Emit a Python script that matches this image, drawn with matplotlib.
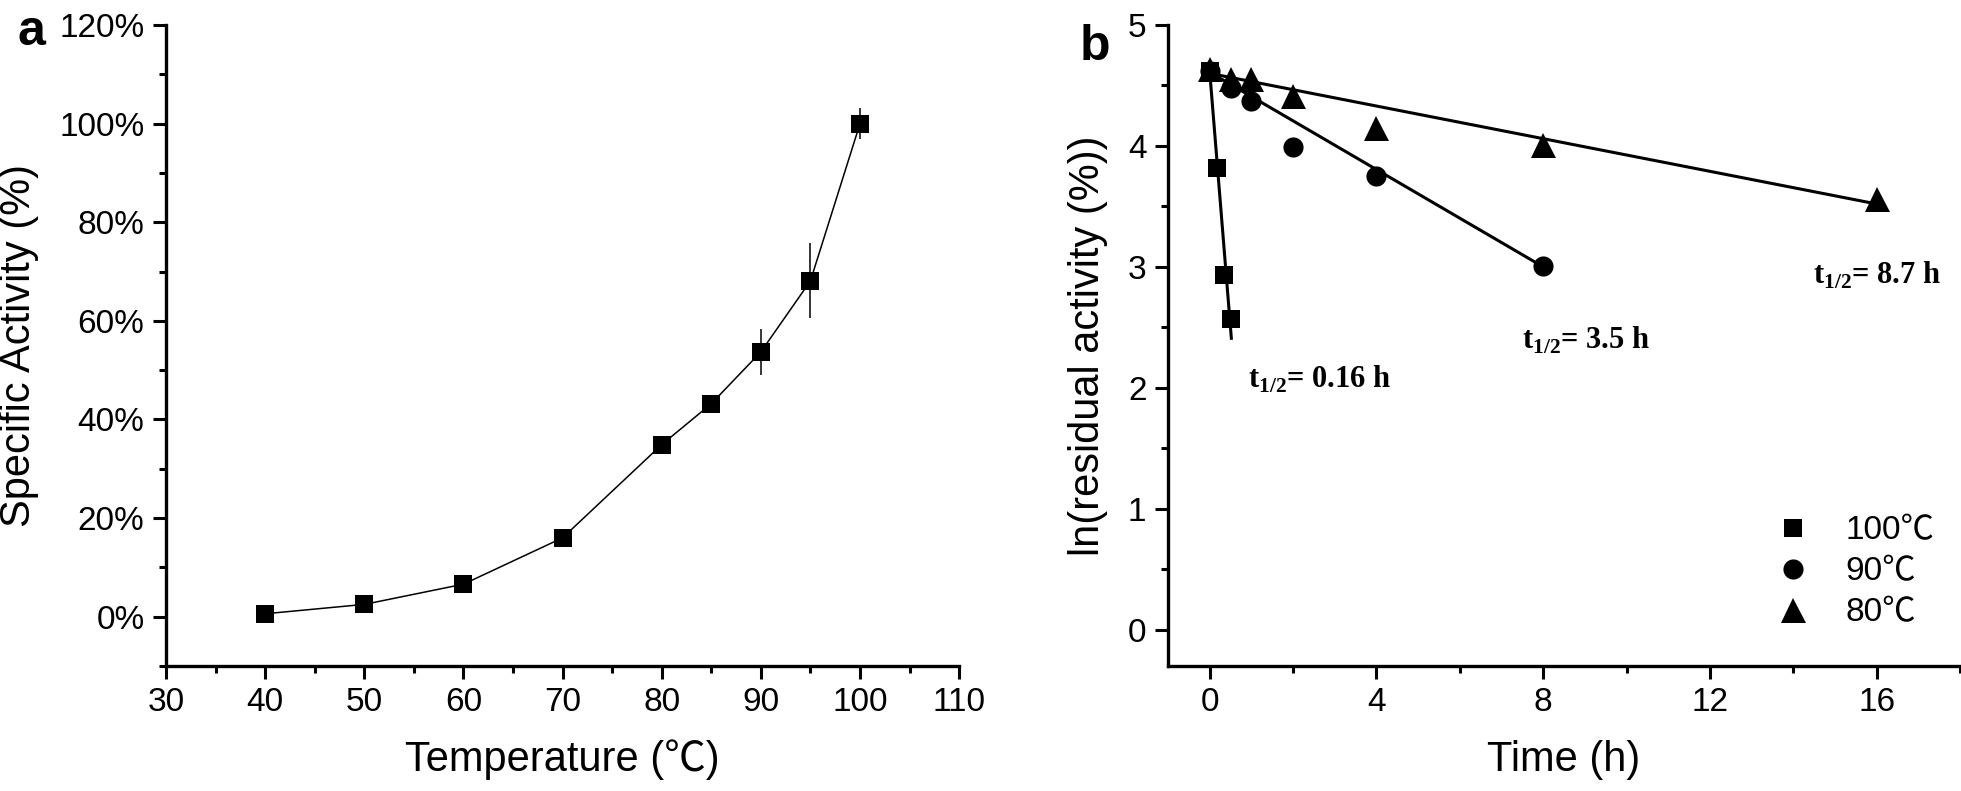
import numpy as np
import matplotlib.pyplot as plt
from matplotlib.ticker import MultipleLocator, PercentFormatter

plt.rcParams['font.family'] = ['Liberation Sans', 'Noto Sans CJK SC', 'DejaVu Sans']
plt.rcParams['mathtext.fontset'] = 'custom'
plt.rcParams['mathtext.bf'] = 'Liberation Serif:bold'
plt.rcParams['mathtext.rm'] = 'Liberation Serif:bold'

# panel a: specific activity vs temperature
temp = [40, 50, 60, 70, 80, 85, 90, 95, 100]
activity = [0.6, 2.5, 6.6, 16.0, 34.9, 43.2, 53.7, 68.1, 100.0]
activity_err = [0, 0, 0, 0, 0, 0, 4.7, 7.6, 3.2]

# panel b: ln(residual activity) vs time
t100 = [0, 0.18, 0.35, 0.52]
y100 = [4.62, 3.82, 2.93, 2.57]
t90 = [0, 0.5, 1, 2, 4, 8]
y90 = [4.62, 4.48, 4.37, 3.99, 3.75, 3.01]
t80 = [0, 0.5, 1, 2, 4, 8, 16]
y80 = [4.64, 4.55, 4.55, 4.41, 4.15, 4.01, 3.56]

# fitted lines (end points)
fit100_t = [0, 0.52]
fit100_y = [4.62, 2.41]
fit90_t = [0, 8]
fit90_y = [4.61, 3.00]
fit80_t = [0, 16]
fit80_y = [4.60, 3.52]

halflife_labels = ['0.16 h', '3.5 h', '8.7 h']
halflife_pos = [(0.91, 2.0), (7.48, 2.32), (14.47, 2.86)]
legend_labels = ['100\u2103', '90\u2103', '80\u2103']

fig = plt.figure(figsize=(19.61, 7.91), dpi=100)
ax1 = fig.add_axes([0.0847, 0.158, 0.4044, 0.8104])
ax2 = fig.add_axes([0.5956, 0.158, 0.4040, 0.8104])

tick_fs = 24
label_fs = 30

for ax in (ax1, ax2):
    ax.spines['top'].set_visible(False)
    ax.spines['right'].set_visible(False)
    ax.spines['left'].set_linewidth(2.4)
    ax.spines['bottom'].set_linewidth(2.4)
    ax.tick_params(which='major', direction='out', length=9.5, width=2.2,
                   labelsize=tick_fs)
    ax.tick_params(which='minor', direction='out', length=5, width=2.2)
    ax.tick_params(axis='x', which='major', pad=5.5)
    ax.tick_params(axis='y', which='major', pad=6)

# ---- panel a
ax1.errorbar(temp, activity, yerr=activity_err, color='black', lw=1.1,
             marker='s', ms=13, mec='black', mew=0, capsize=5, elinewidth=1.1,
             capthick=1.1)
ax1.set_xlim(30, 110)
ax1.set_ylim(-10, 120)
ax1.xaxis.set_major_locator(MultipleLocator(10))
ax1.xaxis.set_minor_locator(MultipleLocator(5))
ax1.yaxis.set_major_locator(MultipleLocator(20))
ax1.yaxis.set_minor_locator(MultipleLocator(10))
ax1.yaxis.set_major_formatter(PercentFormatter(xmax=100, decimals=0))
ax1.set_xlabel('Temperature (\u2103)', fontsize=label_fs)
ax1.set_ylabel('Specific Activity (%)', fontsize=label_fs)
ax1.xaxis.set_label_coords(0.5, -0.115)
ax1.yaxis.set_label_coords(-0.160, 0.5)

# ---- panel b
ax2.plot(fit100_t, fit100_y, color='black', lw=2.2)
ax2.plot(fit90_t, fit90_y, color='black', lw=2.2)
ax2.plot(fit80_t, fit80_y, color='black', lw=2.2)
h1, = ax2.plot(t100, y100, 's', color='black', ms=12.5, mew=0, label=legend_labels[0])
h2, = ax2.plot(t90, y90, 'o', color='black', ms=14.5, mew=0, label=legend_labels[1])
h3, = ax2.plot(t80, y80, '^', color='black', ms=18, mew=0, label=legend_labels[2])

for lab, (x, y) in zip(halflife_labels, halflife_pos):
    ax2.text(x, y, r'$\mathbf{t}_{\mathbf{1/2}}$= ' + lab, fontsize=22,
             fontweight='bold', family='Liberation Serif', va='baseline')

ax2.set_xlim(-1, 18)
ax2.set_ylim(-0.3, 5)
ax2.xaxis.set_major_locator(MultipleLocator(4))
ax2.xaxis.set_minor_locator(MultipleLocator(2))
ax2.yaxis.set_major_locator(MultipleLocator(1))
ax2.yaxis.set_minor_locator(MultipleLocator(0.5))
ax2.set_xlabel('Time (h)', fontsize=label_fs)
ax2.set_ylabel('ln(residual activity (%))', fontsize=label_fs)
ax2.xaxis.set_label_coords(0.5, -0.115)
ax2.yaxis.set_label_coords(-0.076, 0.5)

ax2.legend(handles=[h1, h2, h3], loc='lower left', bbox_to_anchor=(0.72, 0.012),
           frameon=False, fontsize=tick_fs, handlelength=1.5, handletextpad=0.8,
           labelspacing=0.3)

fig.text(0.0087, 0.943, 'a', fontsize=36, fontweight='bold', va='baseline')
fig.text(0.5507, 0.924, 'b', fontsize=36, fontweight='bold', va='baseline')

fig.savefig('out.png', dpi=100)
